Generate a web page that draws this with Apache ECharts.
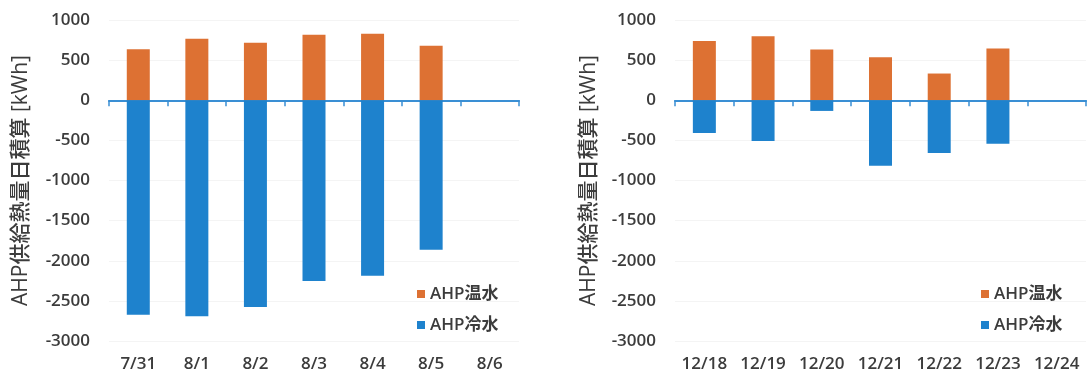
<!DOCTYPE html>
<html>
<head>
<meta charset="utf-8">
<script src="https://cdn.jsdelivr.net/npm/echarts@6/dist/echarts.min.js"></script>
<style>
  html, body { margin: 0; padding: 0; background: #fff; }
  #chart { width: 1087px; height: 380px; }
</style>
</head>
<body>
<div id="chart"></div>
<script>
// Daily totals of heat supplied by the AHP [kWh]: summer week (left) and winter week (right)
const summerDays = ['7/31', '8/1', '8/2', '8/3', '8/4', '8/5', '8/6'];
const summerHot  = [636, 765, 716, 815, 828, 678, null];
const summerCold = [-2672, -2693, -2576, -2252, -2186, -1862, null];

const winterDays = ['12/18', '12/19', '12/20', '12/21', '12/22', '12/23', '12/24'];
const winterHot  = [737, 796, 633, 537, 333, 646, null];
const winterCold = [-408, -508, -133, -817, -658, -542, null];

const seriesNames = ['AHP温水', 'AHP冷水'];
const yTitle = 'AHP供給熱量日積算 [kWh]';

const FONT = "'Open Sans', 'Noto Sans CJK JP', sans-serif";
const TEXT = '#3c3c3c';
const HOT = '#dd7133';
const COLD = '#1e82cd';
const AXIS_BLUE = '#3a8fd4';

const grids = [
  { left: 109, width: 410, top: 20, bottom: 39 },
  { left: 675, width: 411, top: 20, bottom: 39 }
];

function xAxesFor(gridIndex, days) {
  return [
    // category labels along the bottom of the plot
    {
      type: 'category', gridIndex, data: days, position: 'bottom',
      axisLine: { show: false, onZero: false },
      axisTick: { show: false },
      axisLabel: {
        interval: 0, hideOverlap: false,
        color: TEXT, fontFamily: FONT, fontSize: 17, fontWeight: 600, margin: 15
      },
      splitLine: { show: false }
    },
    // baseline drawn at zero with ticks between days
    {
      type: 'category', gridIndex, data: days, position: 'bottom',
      axisLine: { show: true, onZero: true, lineStyle: { color: AXIS_BLUE, width: 2 } },
      axisTick: { show: true, interval: 0, length: 6, lineStyle: { color: AXIS_BLUE, width: 1.5 } },
      axisLabel: { show: false },
      splitLine: { show: false }
    }
  ];
}

function yAxisFor(gridIndex, nameGap) {
  return {
    type: 'value', gridIndex, min: -3000, max: 1000, interval: 500,
    name: yTitle, nameLocation: 'middle', nameRotate: 90, nameGap,
    nameTextStyle: { color: TEXT, fontFamily: FONT, fontSize: 21, fontWeight: 500 },
    axisLine: { show: false }, axisTick: { show: false },
    axisLabel: {
      formatter: v => String(v),
      color: TEXT, fontFamily: FONT, fontSize: 17, fontWeight: 600, margin: 19
    },
    splitLine: { show: true, lineStyle: { color: '#f4f4f4', width: 1 } }
  };
}

function barsFor(gridIndex, hot, cold) {
  const xIdx = gridIndex * 2;
  const common = {
    type: 'bar', xAxisIndex: xIdx, yAxisIndex: gridIndex,
    stack: 'heat' + gridIndex, barWidth: 23, silent: true, animation: false
  };
  return [
    Object.assign({ name: seriesNames[0], data: hot, itemStyle: { color: HOT } }, common),
    Object.assign({ name: seriesNames[1], data: cold, itemStyle: { color: COLD } }, common)
  ];
}

function legendAt(left) {
  return {
    orient: 'vertical', left, top: 279,
    data: seriesNames, icon: 'rect', itemWidth: 8, itemHeight: 8, itemGap: 11,
    textStyle: { color: TEXT, fontFamily: FONT, fontSize: 17, fontWeight: 600, lineHeight: 20 },
    selectedMode: false
  };
}

const chart = echarts.init(document.getElementById('chart'), null, { renderer: 'canvas' });
chart.setOption({
  animation: false,
  backgroundColor: '#ffffff',
  grid: grids,
  xAxis: xAxesFor(0, summerDays).concat(xAxesFor(1, winterDays)),
  yAxis: [yAxisFor(0, 77), yAxisFor(1, 75)],
  legend: [legendAt(412), legendAt(976)],
  series: barsFor(0, summerHot, summerCold).concat(barsFor(1, winterHot, winterCold))
});
</script>
</body>
</html>
